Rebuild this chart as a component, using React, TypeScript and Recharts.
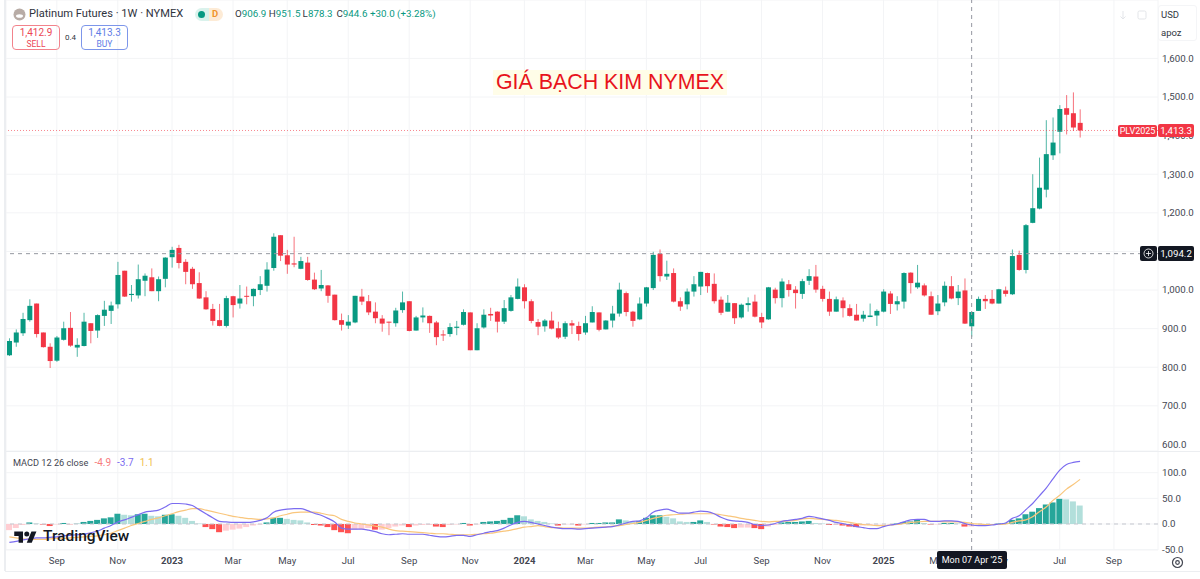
import {
  Bar,
  CartesianGrid,
  Cell,
  ComposedChart,
  Line,
  ReferenceLine,
  XAxis,
  YAxis,
} from 'recharts'

const FONT = 'Roboto, "Noto Sans", sans-serif'
const UP = '#089981'
const DOWN = '#f23645'
const GRID = '#f3f4f6'

const opens = [
  831, 864, 888, 922, 965, 890, 853, 817, 871, 902,
  851, 855, 914, 895, 933, 946, 963, 1050, 987, 986,
  1024, 1033, 997, 1029, 1085, 1109, 1073, 1055, 1018, 981,
  951, 922, 907, 984, 965, 985, 984, 1000, 1011, 1057,
  1142, 1090, 1069, 1055, 1071, 1027, 1004, 1012, 988, 922,
  908, 916, 983, 971, 944, 926, 918, 914, 948, 971,
  895, 929, 933, 916, 885, 886, 902, 910, 942, 844,
  903, 938, 944, 918, 946, 977, 1007, 971, 917, 906,
  921, 901, 879, 914, 907, 890, 916, 942, 898, 921,
  939, 992, 944, 924, 965, 1005, 1094, 1035, 1044, 971,
  963, 996, 1009, 1044, 1016, 975, 944, 966, 929, 961,
  970, 930, 924, 1001, 979, 1015, 1001, 990, 1024, 1035,
  1003, 977, 944, 973, 953, 936, 926, 930, 934, 944,
  991, 963, 970, 1045, 1007, 1012, 984, 945, 968, 1010,
  979, 999, 906, 946, 977, 977, 965, 999, 989, 1091,
  1052, 1174, 1211, 1260, 1349, 1410, 1471, 1458, 1433,
]

const closes = [
  868, 890, 925, 959, 886, 852, 816, 877, 901, 856,
  858, 918, 894, 935, 949, 960, 1039, 983, 990, 1028,
  1037, 997, 1028, 1084, 1104, 1070, 1047, 1015, 978, 950,
  920, 907, 979, 961, 978, 983, 1003, 1015, 1053, 1138,
  1089, 1066, 1066, 1075, 1026, 1002, 1013, 985, 922, 910,
  918, 985, 970, 942, 927, 913, 916, 947, 968, 894,
  929, 934, 914, 878, 883, 904, 905, 943, 844, 901,
  936, 934, 918, 953, 981, 1009, 971, 920, 905, 921,
  900, 877, 914, 908, 886, 914, 943, 897, 921, 939,
  1001, 943, 920, 965, 1007, 1091, 1036, 1042, 970, 957,
  996, 1015, 1047, 1010, 971, 941, 967, 927, 962, 966,
  931, 916, 1007, 979, 1022, 1000, 992, 1023, 1036, 1001,
  977, 944, 976, 953, 933, 921, 936, 934, 946, 996,
  964, 971, 1044, 1018, 1019, 986, 936, 965, 1011, 978,
  996, 913, 943, 977, 971, 965, 1002, 990, 1088, 1052,
  1168, 1212, 1265, 1352, 1382, 1469, 1454, 1421, 1413.3,
]

const highs = [
  875, 898, 941, 976, 965, 890, 862, 881, 918, 943,
  875, 941, 914, 937, 972, 970, 1073, 1050, 1013, 1066,
  1043, 1056, 1035, 1085, 1112, 1117, 1080, 1060, 1046, 997,
  964, 964, 985, 985, 1013, 1009, 1004, 1036, 1072, 1147,
  1142, 1104, 1138, 1086, 1086, 1045, 1052, 1013, 988, 939,
  935, 985, 1003, 987, 968, 935, 918, 954, 996, 971,
  933, 955, 934, 920, 896, 914, 920, 950, 942, 914,
  950, 954, 945, 974, 987, 1030, 1015, 976, 925, 925,
  944, 918, 919, 922, 918, 933, 958, 942, 922, 959,
  1019, 996, 946, 981, 1008, 1099, 1105, 1076, 1056, 981,
  1004, 1036, 1047, 1045, 1043, 983, 987, 966, 965, 981,
  988, 941, 1008, 1006, 1030, 1026, 1010, 1029, 1054, 1065,
  1011, 996, 983, 981, 963, 964, 946, 965, 950, 1002,
  997, 984, 1046, 1046, 1065, 1017, 996, 987, 1022, 1036,
  1013, 1030, 944, 983, 987, 1000, 1003, 1009, 1105, 1102,
  1171, 1300, 1343, 1440, 1447, 1479, 1505, 1512, 1468,
]

const lows = [
  829, 853, 881, 918, 877, 851, 798, 814, 869, 853,
  827, 854, 862, 876, 907, 912, 952, 982, 970, 978,
  984, 997, 971, 1007, 1058, 1056, 1015, 1003, 977, 949,
  908, 906, 903, 929, 952, 963, 958, 987, 996, 1050,
  1075, 1042, 1059, 1054, 1024, 1000, 997, 967, 921, 895,
  899, 914, 961, 935, 914, 892, 883, 905, 941, 893,
  895, 916, 889, 857, 868, 879, 883, 908, 844, 844,
  900, 920, 890, 912, 944, 976, 952, 914, 883, 892,
  898, 873, 873, 886, 869, 884, 916, 893, 898, 903,
  931, 932, 905, 922, 957, 1000, 1022, 1026, 968, 946,
  950, 983, 987, 993, 965, 935, 944, 912, 926, 944,
  929, 901, 923, 965, 955, 983, 952, 977, 1013, 993,
  970, 933, 944, 929, 931, 921, 918, 930, 907, 942,
  938, 947, 952, 991, 1003, 983, 936, 935, 958, 976,
  961, 912, 879, 946, 951, 963, 965, 983, 987, 1050,
  1043, 1173, 1209, 1240, 1337, 1354, 1403, 1412, 1395,
]

const histogram = [
  -12, -8, -2, 3, 1, -1, -4, -1, 2, -0.5,
  0.5, 4, 6, 8, 11, 13, 20, 18, 17, 19,
  20, 16, 15, 18, 19, 16, 12, 6, 1, -6,
  -10, -16, -13, -11, -9, -6, -3, -1, 3, 12,
  12, 10, 8, 7, 3, -2, -3, -6, -12, -16,
  -18, -11, -10, -8, -11, -11, -8, -5, -3, -6,
  -3, -2, -2, -5, -6, -2, -1, 2, -3, -1,
  4, 5, 6, 8, 12, 17, 15, 9, 6, 4,
  1, -3, -1, -1, -3, -1, 2, 2, 3, 3,
  9, 7, 4, 6, 12, 17, 17, 14, 11, 5,
  4, 4, 7, 4, -1, -5, -6, -8, -7, -7,
  -8, -10, -5, -2, 3, 4, 4, 5, 6, 2,
  1, -2, -2, -3, -5, -6, -3, -2, -1, -1,
  -1, 1, 4, 5, 8, 2, -1, -1, 2, 2,
  1, -5, -5, -1, -1, -1, 1, 2, 8, 11,
  19, 24, 31, 38, 42, 49, 48, 44, 36,
]

const macdLine = [
  -36, -34, -31, -29, -27, -27, -26, -25, -23, -22,
  -21, -20, -17, -14, -8, -3, 4, 8, 13, 18,
  23, 25, 27, 33, 40, 40, 39, 36, 28, 20,
  12, 5, 4, 3, 3, 3, 4, 7, 12, 23,
  27, 29, 30, 30, 26, 21, 17, 11, 4, -8,
  -10, -10, -10, -12, -15, -19, -21, -20, -19, -20,
  -20, -20, -22, -24, -25, -24, -22, -22, -24, -21,
  -18, -15, -13, -8, -2, 3, 5, 3, 0, -3,
  -6, -8, -9, -9, -10, -9, -8, -7, -6, -5,
  -2, 2, 5, 6, 12, 23, 27, 29, 25, 21,
  21, 23, 25, 24, 20, 13, 8, 6, 5, 3,
  -1, -3, -2, 1, 5, 7, 9, 11, 15, 13,
  10, 7, 3, 1, -2, -5, -7, -9, -9, -5,
  -2, 0, 4, 8, 9, 9, 5, 5, 6, 6,
  5, 1, -2, -3, -3, -2, 0, 2, 11, 16,
  28, 40, 55, 70, 88, 105, 116, 120, 122,
]

const signalLine = [
  -25, -27, -29, -30, -30, -30, -29, -28, -28, -27,
  -26, -25, -24, -23, -21, -18, -13, -8, -3, 1,
  5, 9, 12, 16, 20, 24, 27, 30, 30, 27,
  24, 21, 18, 15, 13, 11, 10, 9, 10, 12,
  16, 19, 22, 23, 23, 23, 21, 18, 16, 9,
  5, 2, 0, -2, -4, -6, -10, -13, -14, -15,
  -16, -17, -18, -19, -19, -20, -21, -21, -21, -20,
  -19, -18, -16, -14, -12, -9, -6, -5, -3, -5,
  -7, -7, -8, -8, -8, -8, -7, -6, -6, -4,
  -3, -1, 1, 3, 7, 11, 14, 17, 18, 19,
  20, 20, 20, 20, 20, 18, 16, 14, 11, 9,
  7, 5, 4, 5, 5, 6, 7, 10, 11, 10,
  9, 8, 7, 5, 3, 1, -1, -2, -3, -3,
  -2, -1, 1, 3, 4, 5, 5, 5, 4, 4,
  4, 3, 1, 0, -1, -1, -1, 0, 3, 6,
  8, 14, 24, 33, 46, 56, 68, 77, 87,
]

const FIRST_WEEK = Date.UTC(2022, 6, 18)
const BLANK_WEEKS = 11
const weeks = Array.from({ length: opens.length + BLANK_WEEKS }, (_, i) =>
  new Date(FIRST_WEEK + i * 7 * 86400000).toISOString().slice(0, 10),
)

const tickWeeks = [
  '2022-09-05', '2022-11-07', '2023-01-02', '2023-03-06', '2023-05-01', '2023-07-03',
  '2023-09-04', '2023-11-06', '2024-01-01', '2024-03-04', '2024-05-06', '2024-07-01',
  '2024-09-02', '2024-11-04', '2025-01-06', '2025-03-03', '2025-05-05', '2025-07-07', '2025-09-01',
]
const tickNames = [
  'Sep', 'Nov', '2023', 'Mar', 'May', 'Jul',
  'Sep', 'Nov', '2024', 'Mar', 'May', 'Jul',
  'Sep', 'Nov', '2025', 'Mar', 'May', 'Jul', 'Sep',
]

const priceTicks = [600, 700, 800, 900, 1000, 1100, 1200, 1300, 1400, 1500, 1600]
const macdTicks = [-50, 0, 50, 100]
const CROSS_WEEK = '2025-04-07'
const LAST_PRICE = 1413.3
const MARK_PRICE = 1094.2

const candles = weeks.map((week, i) =>
  i < opens.length
    ? {
        week,
        open: opens[i],
        close: closes[i],
        high: highs[i],
        low: lows[i],
        range: [lows[i], highs[i]],
      }
    : { week },
)

const macdRows = weeks.map((week, i) =>
  i < histogram.length
    ? { week, hist: histogram[i], macd: macdLine[i], signal: signalLine[i] }
    : { week },
)

function histColor(i: number) {
  const v = histogram[i]
  const prev = i > 0 ? histogram[i - 1] : v
  if (v >= 0) return v >= prev ? '#26a69a' : '#b2dfdb'
  return v < prev ? '#ff5252' : '#ffcdd2'
}

function Candle(props: any) {
  const { x, y, width, height, payload } = props
  if (!payload || payload.open == null) return null
  const h = Math.abs(height)
  const perUnit = h / (payload.high - payload.low || 1)
  const top = y + (payload.high - Math.max(payload.open, payload.close)) * perUnit
  const bottom = y + (payload.high - Math.min(payload.open, payload.close)) * perUnit
  const color = payload.close >= payload.open ? UP : DOWN
  const mid = x + width / 2
  return (
    <g>
      <line x1={mid} x2={mid} y1={y} y2={y + h} stroke={color} strokeWidth={1} strokeOpacity={0.7} />
      <rect x={x} y={top} width={width} height={Math.max(bottom - top, 1)} fill={color} />
    </g>
  )
}

function TimeTick(props: any) {
  const { x, y, payload } = props
  const name = tickNames[tickWeeks.indexOf(payload.value)]
  const isYear = name.length === 4
  return (
    <text
      x={x}
      y={y + 6}
      textAnchor="middle"
      fontSize={9.6}
      fontFamily={FONT}
      fontWeight={isYear ? 700 : 400}
      fill="#434651"
    >
      {name}
    </text>
  )
}

const fmt = (v: number) =>
  v.toLocaleString('en-US', { minimumFractionDigits: 1, maximumFractionDigits: 1 })

const axisTick = { fill: '#434651', fontSize: 9.7, fontFamily: FONT }

function Label(props: any) {
  const { x, y, w, h, bg, color, size = 9.7, children } = props
  return (
    <div
      style={{
        position: 'absolute',
        left: x,
        top: y,
        width: w,
        height: h,
        lineHeight: h + 'px',
        background: bg,
        color,
        fontSize: size,
        textAlign: 'center',
        borderRadius: 2,
        whiteSpace: 'nowrap',
      }}
    >
      {children}
    </div>
  )
}

function Ohlc() {
  const names = ['O', 'H', 'L', 'C']
  const values = ['906.9', '951.5', '878.3', '944.6']
  return (
    <>
      {names.map((name, i) => (
        <div
          key={name}
          style={{ position: 'absolute', left: 235 + i * 33.8, top: 8, fontSize: 9.8, color: '#333742', whiteSpace: 'nowrap' }}
        >
          {name}
          <span style={{ color: UP }}>{values[i]}</span>
        </div>
      ))}
      <div style={{ position: 'absolute', left: 370, top: 8, fontSize: 9.8, color: UP, whiteSpace: 'nowrap' }}>
        +30.0 (+3.28%)
      </div>
    </>
  )
}

function Header() {
  return (
    <>
      <svg style={{ position: 'absolute', left: 13, top: 8 }} width={13} height={13}>
        <circle cx={6.5} cy={6.5} r={6} fill="#b8aca6" />
        <ellipse cx={6.5} cy={8} rx={3.5} ry={1.8} fill="#fff" />
      </svg>
      <div style={{ position: 'absolute', left: 29, top: 7, fontSize: 11.1, color: '#2f333d', whiteSpace: 'nowrap' }}>
        Platinum Futures · 1W · NYMEX
      </div>
      <div style={{ position: 'absolute', left: 195, top: 8, width: 28, height: 13, borderRadius: 7, background: 'linear-gradient(90deg,#daf2ec 50%,#fdebd6 50%)' }} />
      <div style={{ position: 'absolute', left: 198, top: 11, width: 7, height: 7, borderRadius: 4, background: UP }} />
      <div style={{ position: 'absolute', left: 212, top: 8, fontSize: 9.5, fontWeight: 700, color: '#f0932b' }}>D</div>
      <Ohlc />
      <div style={{ position: 'absolute', left: 12, top: 25, width: 48, height: 25, border: '1px solid #f2838c', borderRadius: 4, boxSizing: 'border-box', textAlign: 'center', color: '#ec4755', fontSize: 10, lineHeight: '11px', paddingTop: 1 }}>
        1,412.9
        <br />
        <span style={{ fontSize: 8.5 }}>SELL</span>
      </div>
      <div style={{ position: 'absolute', left: 65, top: 33, fontSize: 8, color: '#333742' }}>0.4</div>
      <div style={{ position: 'absolute', left: 81, top: 25, width: 47, height: 25, border: '1px solid #7d96ea', borderRadius: 4, boxSizing: 'border-box', textAlign: 'center', color: '#5e7de6', fontSize: 10, lineHeight: '11px', paddingTop: 1 }}>
        1,413.3
        <br />
        <span style={{ fontSize: 8.5 }}>BUY</span>
      </div>
      <svg style={{ position: 'absolute', left: 1118, top: 8 }} width={34} height={14}>
        <path d="M5 3v8M2.5 8.5L5 11l2.5-2.5" fill="none" stroke="#e3e5e9" />
        <rect x={20} y={3} width={8} height={8} rx={1.5} fill="none" stroke="#e3e5e9" />
      </svg>
      <div style={{ position: 'absolute', left: 1158, top: 5, width: 39, height: 36, border: '1px solid #f4f5f7', borderRadius: 3, boxSizing: 'border-box', fontSize: 9.5, color: '#333742', lineHeight: '18px', paddingLeft: 2 }}>
        USD
        <br />
        apoz
      </div>
      <div style={{ position: 'absolute', left: 493, top: 70, width: 234, height: 25, lineHeight: '25px', textAlign: 'center', fontSize: 21.4, color: '#e8141c', background: '#fffde8', fontFamily: '"Liberation Sans", Arial, sans-serif', whiteSpace: 'nowrap' }}>
        GIÁ BẠCH KIM NYMEX
      </div>
    </>
  )
}

function Logo() {
  return (
    <>
      <svg style={{ position: 'absolute', left: 14, top: 529 }} width={23} height={15} viewBox="0 0 36 24">
        <path d="M14 22H7V11H0V4h14v18zM28 22h-8l7.5-18h8L28 22z" fill="#131722" />
        <circle cx={20} cy={8} r={4} fill="#131722" />
      </svg>
      <div style={{ position: 'absolute', left: 43, top: 527, fontSize: 15.5, fontWeight: 500, color: '#131722', whiteSpace: 'nowrap' }}>
        TradingView
      </div>
    </>
  )
}

export default function App() {
  return (
    <div
      style={{
        position: 'absolute',
        left: 0,
        top: 0,
        width: 1200,
        height: 579,
        overflow: 'hidden',
        background: '#fff',
        fontFamily: FONT,
      }}
    >
      <div style={{ position: 'absolute', left: 0, top: 0 }}>
        <ComposedChart
          width={1200}
          height={451}
          data={candles}
          margin={{ top: 0, right: 0, bottom: 0, left: 6 }}
        >
          <CartesianGrid stroke={GRID} />
          <XAxis dataKey="week" hide ticks={tickWeeks} interval={0} />
          <YAxis
            orientation="right"
            width={42}
            domain={[583, 1751.3]}
            ticks={priceTicks}
            tickFormatter={fmt}
            tick={axisTick}
            axisLine={false}
            tickLine={false}
            tickSize={0}
            tickMargin={4}
          />
          <ReferenceLine y={MARK_PRICE} stroke="#9598a1" strokeDasharray="4 4" />
          <ReferenceLine y={LAST_PRICE} stroke={DOWN} strokeOpacity={0.6} strokeDasharray="1 2" />
          <ReferenceLine x={CROSS_WEEK} stroke="#9598a1" strokeDasharray="4 4" />
          <Bar dataKey="range" barSize={5} shape={<Candle />} isAnimationActive={false} />
        </ComposedChart>
      </div>

      <div style={{ position: 'absolute', left: 0, top: 451 }}>
        <ComposedChart
          width={1200}
          height={120}
          data={macdRows}
          margin={{ top: 0, right: 0, bottom: 0, left: 6 }}
        >
          <CartesianGrid stroke={GRID} />
          <XAxis
            dataKey="week"
            ticks={tickWeeks}
            interval={0}
            height={21}
            tick={<TimeTick />}
            axisLine={false}
            tickLine={false}
          />
          <YAxis
            orientation="right"
            width={42}
            domain={[-50.7, 142.3]}
            ticks={macdTicks}
            tickFormatter={fmt}
            tick={axisTick}
            axisLine={false}
            tickLine={false}
            tickSize={0}
            tickMargin={4}
          />
          <ReferenceLine y={0} stroke="#c4c7ce" strokeDasharray="4 4" />
          <ReferenceLine x={CROSS_WEEK} stroke="#9598a1" strokeDasharray="4 4" />
          <Bar dataKey="hist" barSize={6} isAnimationActive={false}>
            {macdRows.map((row, i) => (
              <Cell key={row.week} fill={i < histogram.length ? histColor(i) : 'none'} />
            ))}
          </Bar>
          <Line dataKey="signal" type="monotone" stroke="#f9c67c" strokeWidth={1.2} dot={false} isAnimationActive={false} />
          <Line dataKey="macd" type="monotone" stroke="#7b6cf0" strokeWidth={1.2} dot={false} isAnimationActive={false} />
        </ComposedChart>
      </div>

      <div style={{ position: 'absolute', left: 4, top: 0, width: 1.5, height: 571, background: '#eceef1' }} />
      <div style={{ position: 'absolute', left: 5, top: 451, width: 1195, height: 1, background: '#eceef1' }} />
      <div style={{ position: 'absolute', left: 5, top: 571, width: 1195, height: 1, background: '#eceef1' }} />

      <Header />
      <div style={{ position: 'absolute', left: 13, top: 457, fontSize: 9.2, color: '#434651', whiteSpace: 'nowrap' }}>
        MACD 12 26 close
        <span style={{ color: '#f77c80', marginLeft: 6, fontSize: 10 }}>-4.9</span>
        <span style={{ color: '#7b6cf0', marginLeft: 6, fontSize: 10 }}>-3.7</span>
        <span style={{ color: '#f0c04f', marginLeft: 6, fontSize: 10 }}>1.1</span>
      </div>
      <Logo />

      <Label x={1118} y={125} w={39} h={12} bg={DOWN} color="#fff" size={9}>PLV2025</Label>
      <Label x={1158} y={124} w={36} h={13} bg={DOWN} color="#fff">1,413.3</Label>
      <svg style={{ position: 'absolute', left: 1140, top: 246 }} width={17} height={15}>
        <rect width={17} height={15} rx={2} fill="#131722" />
        <circle cx={8.5} cy={7.5} r={4.5} fill="none" stroke="#fff" strokeWidth={0.8} />
        <path d="M8.5 5v5M6 7.5h5" stroke="#fff" strokeWidth={0.8} />
      </svg>
      <Label x={1158} y={246} w={36} h={15} bg="#131722" color="#fff">1,094.2</Label>
      <Label x={937} y={551} w={70} h={18} bg="#131722" color="#fff" size={9}>Mon 07 Apr '25</Label>

      <svg style={{ position: 'absolute', left: 1171, top: 556 }} width={13} height={13}>
        <circle cx={6.5} cy={6.5} r={5} fill="none" stroke="#434651" strokeWidth={1.2} />
        <circle cx={6.5} cy={6.5} r={1.8} fill="none" stroke="#434651" strokeWidth={1.2} />
      </svg>
    </div>
  )
}
